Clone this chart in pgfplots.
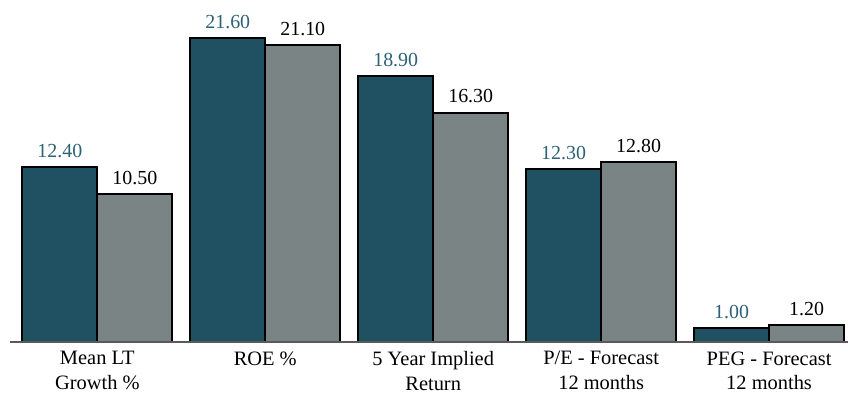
\documentclass[border=0pt]{standalone}
\usepackage{fontspec}
\setmainfont{Liberation Serif}
\usepackage{pgfplots}
\pgfplotsset{compat=1.18}
\definecolor{teal1}{HTML}{1F5163}
\definecolor{gray1}{HTML}{7A8484}
\definecolor{labteal}{HTML}{2D6176}
\definecolor{axisgray}{HTML}{5A5A5A}
\begin{document}
\begin{tikzpicture}[x=1bp,y=1bp]
\begin{axis}[at={(0,0)},anchor=south west, scale only axis,
  width=838bp, height=342bp,
  xmin=-0.52, xmax=4.47, ymin=0, ymax=24.3,
  axis y line=none, axis x line*=bottom,
  axis line style={draw=none},
  xtick={0,1,2,3,4},
  xticklabels={{Mean LT\\Growth \%},{ROE \%},{5 Year Implied\\Return},{P/E - Forecast\\12 months},{PEG - Forecast\\12 months}},
  major tick length=0pt,
  xticklabel style={align=center, font=\fontsize{20.5}{25}\selectfont, yshift=-6bp},
  clip=false,
  ybar, bar width=75bp,
  nodes near coords,
  nodes near coords align={vertical},
  every node near coord/.append style={font=\fontsize{20}{20}\selectfont, yshift=5bp},
  /pgf/number format/.cd, fixed, fixed zerofill, precision=2, assume math mode=true,
]
\addplot[fill=teal1, draw=black, line width=2pt, bar shift=-37.5bp,
  every node near coord/.append style={text=labteal}]
  coordinates {(0,12.4) (1,21.6) (2,18.9) (3,12.3) (4,1.0)};
\addplot[fill=gray1, draw=black, line width=2pt, bar shift=37.5bp,
  every node near coord/.append style={text=black}]
  coordinates {(0,10.5) (1,21.1) (2,16.3) (3,12.8) (4,1.2)};
\draw[axisgray, line width=2.4pt] (axis cs:-0.52,0) -- (axis cs:4.47,0);
\end{axis}
\pgfresetboundingbox
\path[use as bounding box] (-10,-55) rectangle (838,342);
\end{tikzpicture}
\end{document}
